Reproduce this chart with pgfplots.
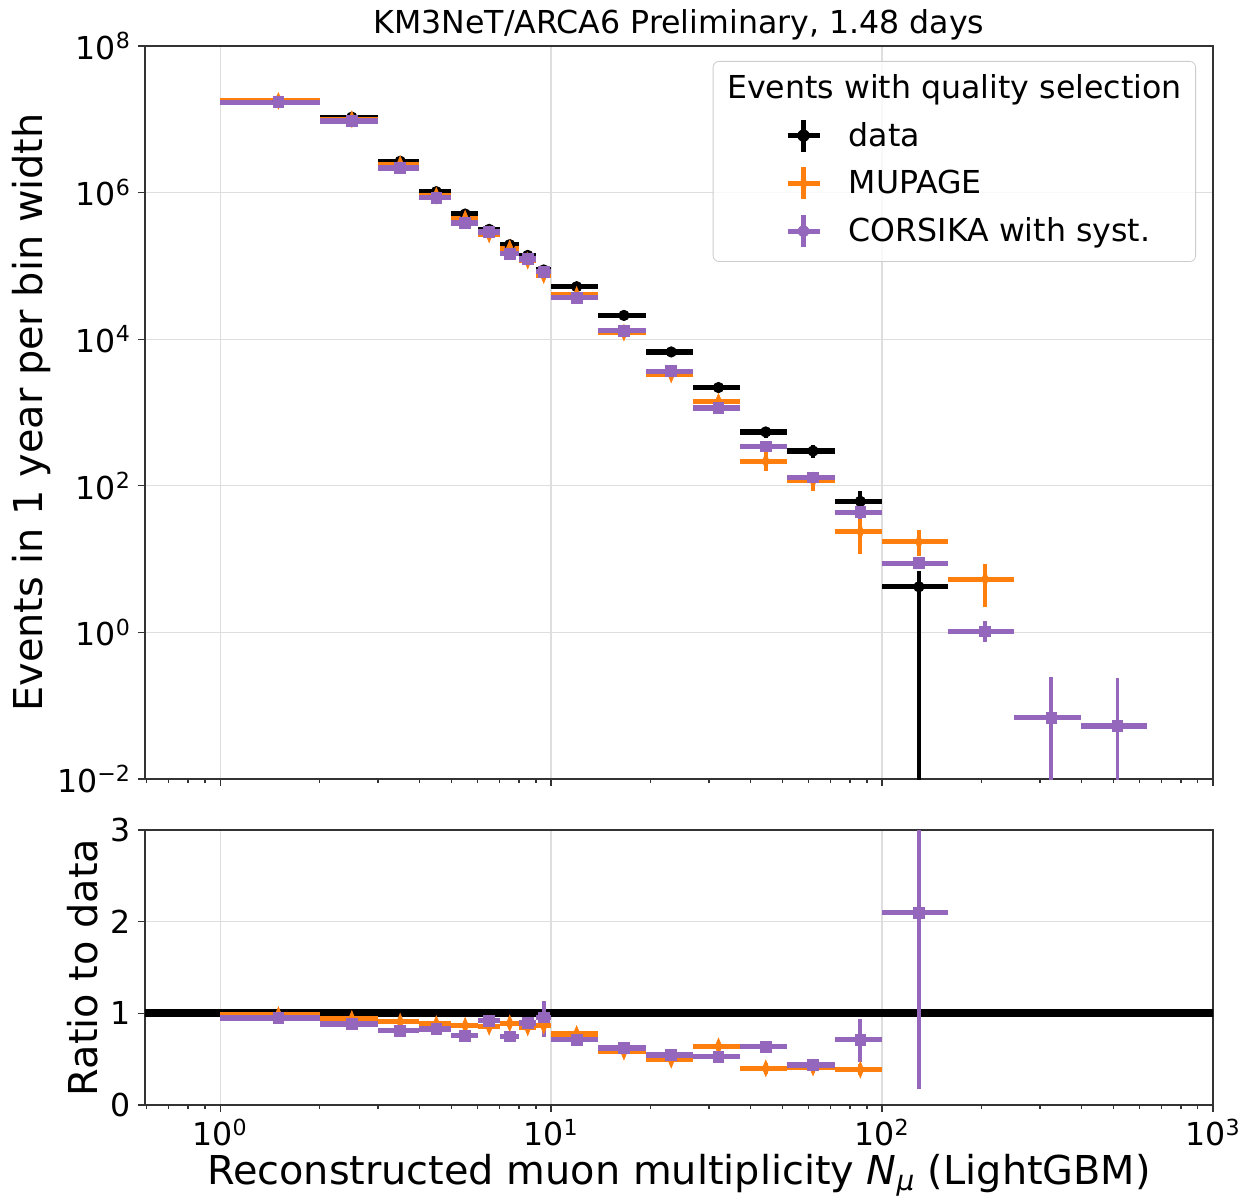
\documentclass[border=0pt]{standalone}
\usepackage{fontspec}
\setmainfont{DejaVu Sans}
\usepackage{pgfplots}
\usepackage{pgfplotstable}
\pgfplotsset{compat=1.18}

\definecolor{mporange}{HTML}{FF7F0E}
\definecolor{mppurple}{HTML}{9467BD}

\newcommand{\tfont}{\fontsize{15.8}{18}\selectfont}
\newcommand{\lfont}{\fontsize{19.9}{23}\selectfont}

% x = bin centre, xe = half bin width, y = value, yp/ym = error plus/minus
\pgfplotstableread{
x xe y yp ym
1.5 0.5 1.79e7 6.7e4 6.7e4
2.5 0.5 1.07e7 5.1e4 5.1e4
3.5 0.5 2.68e6 2.6e4 2.6e4
4.5 0.5 1.03e6 1.6e4 1.6e4
5.5 0.5 5.1e5 1.1e4 1.1e4
6.5 0.5 3.15e5 8.8e3 8.8e3
7.5 0.5 1.95e5 6.9e3 6.9e3
8.5 0.5 1.39e5 5.9e3 5.9e3
9.5 0.5 8.8e4 4.6e3 4.6e3
11.947 1.947 5.2e4 1.8e3 1.8e3
16.601 2.706 2.11e4 980 980
23.067 3.760 6.7e3 470 470
32.051 5.224 2.19e3 227 227
44.535 7.259 543 96 96
61.882 10.087 298 60 60
85.984 14.016 61.4 24.6 23.2
129.245 29.245 4.19 2.7 4.189
}\datatab

\pgfplotstableread{
x xe y yp ym
1.5 0.5 1.78e7 1e5 1e5
2.5 0.5 1.00e7 8e4 8e4
3.5 0.5 2.44e6 3e4 3e4
4.5 0.5 9.1e5 1.5e4 1.5e4
5.5 0.5 4.41e5 1e4 1e4
6.5 0.5 2.69e5 8e3 8e3
7.5 0.5 1.74e5 6e3 6e3
8.5 0.5 1.18e5 5e3 5e3
9.5 0.5 7.5e4 4e3 4e3
11.947 1.947 4.02e4 1.5e3 1.5e3
16.601 2.706 1.23e4 600 600
23.067 3.760 3.31e3 250 250
32.051 5.224 1.40e3 150 150
44.535 7.259 217 70 56
61.882 10.087 118 25 33
85.984 14.016 23.6 13 12
129.245 29.245 17.2 7.7 6.1
204.84 46.35 5.33 3.2 3.1
}\mupagetab

\pgfplotstableread{
x xe y yp ym
1.5 0.5 1.71e7 2e5 2e5
2.5 0.5 9.45e6 1.5e5 1.5e5
3.5 0.5 2.17e6 5e4 5e4
4.5 0.5 8.5e5 2.5e4 2.5e4
5.5 0.5 3.86e5 1.2e4 1.2e4
6.5 0.5 2.9e5 1e4 1e4
7.5 0.5 1.46e5 6e3 6e3
8.5 0.5 1.24e5 6e3 6e3
9.5 0.5 8.3e4 1.6e4 1.6e4
11.947 1.947 3.70e4 1.5e3 1.5e3
16.601 2.706 1.31e4 600 600
23.067 3.760 3.65e3 200 200
32.051 5.224 1.15e3 80 80
44.535 7.259 345 40 40
61.882 10.087 130 12 12
85.984 14.016 43.7 9 9
129.245 29.245 8.8 1.7 1.5
204.84 46.35 1.03 0.38 0.28
324.65 73.46 0.0687 0.18 0.06869
514.53 116.43 0.0528 0.184 0.05279
}\corsikatab

\pgfplotstableread{
x xe y yp ym
1.5 0.5 0.981 0.01 0.01
2.5 0.5 0.938 0.012 0.012
3.5 0.5 0.909 0.015 0.015
4.5 0.5 0.883 0.02 0.02
5.5 0.5 0.865 0.025 0.025
6.5 0.5 0.854 0.03 0.03
7.5 0.5 0.891 0.035 0.035
8.5 0.5 0.847 0.04 0.04
9.5 0.5 0.865 0.05 0.05
11.947 1.947 0.774 0.03 0.03
16.601 2.706 0.582 0.03 0.03
23.067 3.760 0.494 0.04 0.04
32.051 5.224 0.64 0.06 0.06
44.535 7.259 0.40 0.06 0.06
61.882 10.087 0.41 0.06 0.06
85.984 14.016 0.385 0.06 0.06
}\mupageratio

\pgfplotstableread{
x xe y yp ym
1.5 0.5 0.949 0.015 0.015
2.5 0.5 0.883 0.02 0.02
3.5 0.5 0.81 0.025 0.025
4.5 0.5 0.829 0.03 0.03
5.5 0.5 0.756 0.03 0.03
6.5 0.5 0.92 0.035 0.035
7.5 0.5 0.749 0.035 0.035
8.5 0.5 0.894 0.04 0.04
9.5 0.5 0.956 0.18 0.21
11.947 1.947 0.712 0.03 0.03
16.601 2.706 0.622 0.03 0.03
23.067 3.760 0.545 0.03 0.03
32.051 5.224 0.527 0.04 0.04
44.535 7.259 0.636 0.06 0.06
61.882 10.087 0.436 0.04 0.04
85.984 14.016 0.712 0.23 0.24
129.245 29.245 2.10 1.5 1.92
}\corsikaratio

\pgfplotsset{
  kmhbin/.style={draw=none, mark=none,
    error bars/x dir=both, error bars/x explicit, error bars/error mark=none,
    error bars/error bar style={draw=#1, line width=2.6pt, solid}},
  kmverr/.style={color=#1, only marks,
    error bars/y dir=both, error bars/y explicit, error bars/error mark=none,
    error bars/error bar style={draw=#1, line width=1.9pt, solid}},
}

\begin{document}
\begin{tikzpicture}
\begin{axis}[name=top,
  at={(0pt,163pt)}, anchor=south west,
  scale only axis, width=534pt, height=366.5pt,
  xmode=log, xmin=0.593, xmax=1000,
  xtick={1,10,100,1000},
  minor xtick={0.6,0.7,0.8,0.9,2,3,4,5,6,7,8,9,20,30,40,50,60,70,80,90,200,300,400,500,600,700,800,900},
  tick align=outside, tick pos=left,
  major tick length=3.5pt, minor tick length=2pt,
  tick style={black!80, line width=0.6pt},
  axis line style={black!80, line width=0.6pt},
  grid=major, major grid style={black!13, line width=0.6pt},
  tick label style={font=\tfont},
  ymode=log, ymin=1e-2, ymax=1e8,
  ytick={1e-2,1,1e2,1e4,1e6,1e8},
  yticklabels={10\textsuperscript{−2},10\textsuperscript{0},10\textsuperscript{2},10\textsuperscript{4},10\textsuperscript{6},10\textsuperscript{8}},
  xticklabels={},
  ylabel={Events in 1 year per bin width},
  every axis y label/.style={at={(axis description cs:-0.1058,0.5)}, rotate=90, anchor=center, font=\lfont},
  title={KM3NeT/ARCA6 Preliminary, 1.48 days},
  every axis title/.style={at={(axis description cs:0.5,1)}, anchor=base, yshift=6pt, font=\tfont},
  legend cell align=left,
  legend style={at={(axis description cs:1,1)}, anchor=north east, xshift=-8.5pt, yshift=-7.5pt,
    draw=black!20, rounded corners=3pt, fill=white, fill opacity=0.8, text opacity=1,
    inner sep=2pt, font=\tfont, column sep=0pt, row sep=0pt},
]
\addlegendimage{legend image code/.code={\path (0pt,-11.75pt) (0pt,11pt);}}
\addlegendentry{\hspace*{-60.8pt}Events with quality selection\hspace*{3pt}}

\addplot[kmhbin=black, forget plot] table[x=x, y=y, x error=xe] {\datatab};
\addplot[kmverr=black, mark=*, mark size=2.6pt,
  legend image code/.code={
    \draw[black, line width=2.6pt] (-8pt,0pt)--(8pt,0pt) (0pt,-8pt)--(0pt,8pt);
    \fill[black, fill opacity=1] (0pt,0pt) circle[radius=2.9pt];
    \path (-43pt,-11.75pt) (20.5pt,11.75pt);}]
  table[x=x, y=y, y error plus=yp, y error minus=ym] {\datatab};
\addlegendentry{data}

\addplot[kmhbin=mporange, forget plot] table[x=x, y=y, x error=xe] {\mupagetab};
\addplot[kmverr=mporange, mark=diamond*, mark size=4pt, mark options={xscale=0.55},
  legend image code/.code={
    \draw[mporange, line width=2.6pt] (-8pt,0pt)--(8pt,0pt) (0pt,-8pt)--(0pt,8pt);
    \fill[mporange, fill opacity=1] (0pt,4.5pt)--(2pt,0pt)--(0pt,-4.5pt)--(-2pt,0pt)--cycle;
    \path (-43pt,-11.75pt) (20.5pt,11.75pt);}]
  table[x=x, y=y, y error plus=yp, y error minus=ym] {\mupagetab};
\addlegendentry{MUPAGE}

\addplot[kmhbin=mppurple, forget plot] table[x=x, y=y, x error=xe] {\corsikatab};
\addplot[kmverr=mppurple, mark=square*, mark size=2.7pt,
  legend image code/.code={
    \draw[mppurple, line width=2.6pt] (-8pt,0pt)--(8pt,0pt) (0pt,-8pt)--(0pt,8pt);
    \fill[mppurple, fill opacity=1] (-2.8pt,-2.8pt) rectangle (2.8pt,2.8pt);
    \path (-43pt,-13pt) (20.5pt,11.75pt);}]
  table[x=x, y=y, y error plus=yp, y error minus=ym] {\corsikatab};
\addlegendentry{CORSIKA with syst.}
\end{axis}

\begin{axis}[name=bot,
  at={(0pt,0pt)}, anchor=south west,
  scale only axis, width=534pt, height=137.5pt,
  xmode=log, xmin=0.593, xmax=1000,
  xtick={1,10,100,1000},
  minor xtick={0.6,0.7,0.8,0.9,2,3,4,5,6,7,8,9,20,30,40,50,60,70,80,90,200,300,400,500,600,700,800,900},
  tick align=outside, tick pos=left,
  major tick length=3.5pt, minor tick length=2pt,
  tick style={black!80, line width=0.6pt},
  axis line style={black!80, line width=0.6pt},
  grid=major, major grid style={black!13, line width=0.6pt},
  tick label style={font=\tfont},
  ymin=0, ymax=3,
  ytick={0,1,2,3}, yticklabels={0,1,2,3},
  xticklabels={10\textsuperscript{0},10\textsuperscript{1},10\textsuperscript{2},10\textsuperscript{3}},
  xlabel={Reconstructed muon multiplicity \textit{N}\textsubscript{\textit{μ}} (LightGBM)},
  every axis x label/.style={at={(axis description cs:0.5,0)}, anchor=base, yshift=-39.5pt, font=\lfont},
  ylabel={Ratio to data},
  every axis y label/.style={at={(axis description cs:-0.0581,0.5)}, rotate=90, anchor=center, font=\lfont},
]
\addplot[black, line width=4pt, forget plot] coordinates {(0.5,1) (2000,1)};

\addplot[kmhbin=mporange, forget plot] table[x=x, y=y, x error=xe] {\mupageratio};
\addplot[kmverr=mporange, mark=diamond*, mark size=4pt, mark options={xscale=0.55}]
  table[x=x, y=y, y error plus=yp, y error minus=ym] {\mupageratio};

\addplot[kmhbin=mppurple, forget plot] table[x=x, y=y, x error=xe] {\corsikaratio};
\addplot[kmverr=mppurple, mark=square*, mark size=2.7pt]
  table[x=x, y=y, y error plus=yp, y error minus=ym] {\corsikaratio};
\end{axis}

\pgfresetboundingbox
\path (-72.5pt,552.5pt) rectangle (548pt,-45pt);
\end{tikzpicture}
\end{document}
